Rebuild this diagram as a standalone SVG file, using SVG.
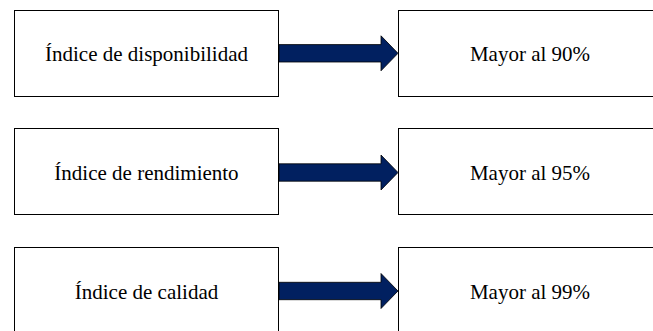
<svg xmlns="http://www.w3.org/2000/svg" xmlns:xlink="http://www.w3.org/1999/xlink" width="653" height="331" viewBox="0 0 653 331">
<style>
.box{fill:#fff;stroke:#000;stroke-width:1}
.lbl{font-size:21px;fill:#000;text-anchor:middle}
.arr{fill:#012060;stroke:#000;stroke-width:0.8}
</style>
<defs>
<path id="arrow" class="arr" d="M279,-8.7 H381 V-17.5 L398,0 L381,17.5 V8.7 H279 Z"/>
</defs>
<rect width="653" height="331" fill="#fff"/>
<g font-family="'Liberation Serif', 'Times New Roman', serif">
<g id="n1"><rect class="box" x="14.5" y="10.5" width="264" height="86"/><text class="lbl" x="146.5" y="61">Índice de disponibilidad</text></g>
<g id="n2"><rect class="box" x="398.5" y="10.5" width="264" height="86"/><text class="lbl" x="530" y="61">Mayor al 90%</text></g>
<g id="n3"><rect class="box" x="14.5" y="128.5" width="264" height="86"/><text class="lbl" x="146.5" y="180">Índice de rendimiento</text></g>
<g id="n4"><rect class="box" x="398.5" y="128.5" width="264" height="86"/><text class="lbl" x="530" y="180">Mayor al 95%</text></g>
<g id="n5"><rect class="box" x="14.5" y="247.5" width="264" height="86"/><text class="lbl" x="146.5" y="299">Índice de calidad</text></g>
<g id="n6"><rect class="box" x="398.5" y="247.5" width="264" height="86"/><text class="lbl" x="530" y="299">Mayor al 99%</text></g>
</g>
<g id="connectors">
<use xlink:href="#arrow" transform="translate(0,53.3)"/>
<use xlink:href="#arrow" transform="translate(0,172.5)"/>
<use xlink:href="#arrow" transform="translate(0,291)"/>
</g>
</svg>
